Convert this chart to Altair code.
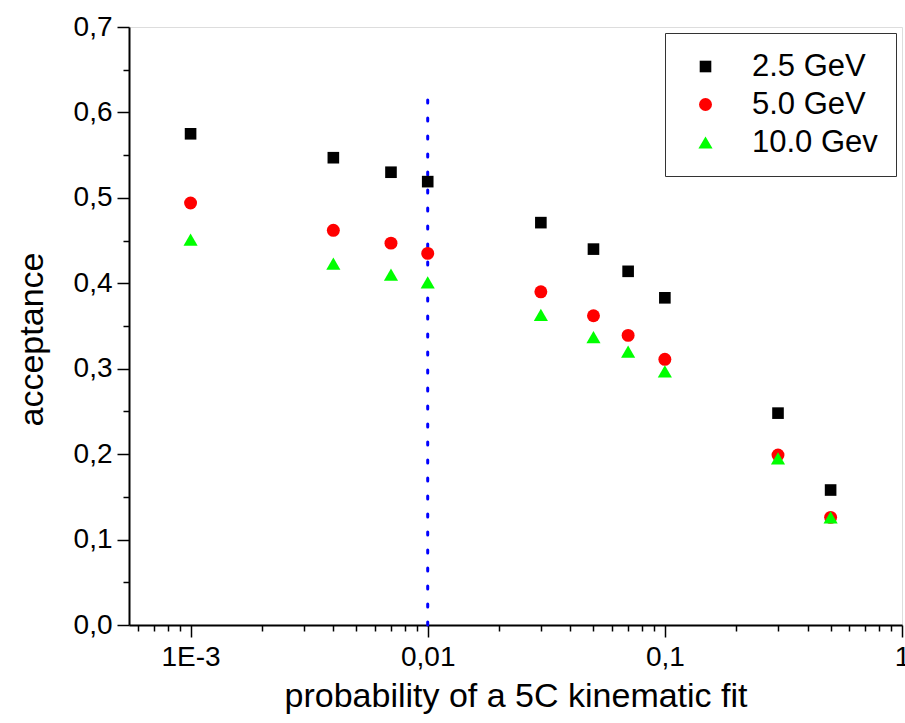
import altair as alt
import pandas as pd

probs = [0.001, 0.004, 0.007, 0.01, 0.03, 0.05, 0.07, 0.1, 0.3, 0.5]
acc_2_5 = [0.575, 0.547, 0.530, 0.519, 0.471, 0.440, 0.414, 0.383, 0.248, 0.158]
acc_5_0 = [0.494, 0.462, 0.447, 0.435, 0.390, 0.362, 0.339, 0.311, 0.199, 0.126]
acc_10_0 = [0.451, 0.423, 0.410, 0.401, 0.363, 0.337, 0.320, 0.297, 0.195, 0.126]
series = ["2.5 GeV", "5.0 GeV", "10.0 Gev"]
colors = ["#000000", "#ff0000", "#00ff00"]
shapes = ["square", "circle", "triangle-up"]
sizes = [135, 200, 260]

x_major = [0.001, 0.01, 0.1, 1]
x_minor = [0.0006, 0.0007, 0.0008, 0.0009,
           0.002, 0.003, 0.004, 0.005, 0.006, 0.007, 0.008, 0.009,
           0.02, 0.03, 0.04, 0.05, 0.06, 0.07, 0.08, 0.09,
           0.2, 0.3, 0.4, 0.5, 0.6, 0.7, 0.8, 0.9]
y_major = [0.0, 0.1, 0.2, 0.3, 0.4, 0.5, 0.6, 0.7]
y_minor = [0.05, 0.15, 0.25, 0.35, 0.45, 0.55, 0.65]

cut_x = [0.01]
cut_top = [0.615]

rows = []
for name, vals in zip(series, [acc_2_5, acc_5_0, acc_10_0]):
    for p, a in zip(probs, vals):
        rows.append({"p": p, "acc": a, "series": name})
df = pd.DataFrame(rows)
cut_df = pd.DataFrame({"x": cut_x, "y0": [0.0], "y1": cut_top})

FONT = "Liberation Sans"
W, H = 773, 598

xscale = alt.Scale(type="log", domain=[0.00055, 1], nice=False)
yscale = alt.Scale(domain=[0, 0.7], nice=False, zero=False)

x_major_axis = alt.Axis(
    values=x_major, orient="bottom", grid=False,
    labelExpr="datum.value < 0.005 ? '1E-3' : replace(format(datum.value, '~g'), '.', ',')",
    tickSize=12, tickWidth=1.5, tickColor="black",
    domain=True, domainColor="black", domainWidth=2,
    labelFont=FONT, labelFontSize=28, labelColor="black", labelPadding=6,
    labelFlush=False, labelOverlap=False,
    title="probability of a 5C kinematic fit", titleFont=FONT, titleFontSize=34,
    titleFontWeight="normal", titleColor="black", titlePadding=8,
)
y_major_axis = alt.Axis(
    values=y_major, orient="left", grid=False,
    labelExpr="replace(format(datum.value, '.1f'), '.', ',')",
    tickSize=12, tickWidth=1.5, tickColor="black",
    domain=True, domainColor="black", domainWidth=2,
    labelFont=FONT, labelFontSize=28, labelColor="black", labelPadding=5,
    labelFlush=False, labelOverlap=False,
    title="acceptance", titleFont=FONT, titleFontSize=34,
    titleFontWeight="normal", titleColor="black", titlePadding=24, titleY=312,
)
x_minor_axis = alt.Axis(values=x_minor, orient="bottom", grid=False, labels=False,
                        tickSize=6, tickWidth=1.5, tickColor="black",
                        domain=False, title=None)
y_minor_axis = alt.Axis(values=y_minor, orient="left", grid=False, labels=False,
                        tickSize=6, tickWidth=1.5, tickColor="black",
                        domain=False, title=None)

cut = alt.Chart(cut_df).mark_rule(
    color="#0000ff", strokeWidth=3, strokeDash=[3, 15], strokeCap="round"
).encode(
    x=alt.X("x:Q", scale=xscale, axis=x_minor_axis),
    y=alt.Y("y0:Q", scale=yscale, axis=y_minor_axis),
    y2="y1:Q",
)

legend = alt.Legend(
    title=None, orient="none", legendX=536, legendY=6,
    strokeColor="#333333", fillColor="white", padding=18,
    labelFont=FONT, labelFontSize=31, labelColor="black",
    symbolOffset=7, labelOffset=31, rowPadding=6, symbolOpacity=1,
    symbolStrokeWidth=0,
)

points = alt.Chart(df).mark_point(filled=True, opacity=1, strokeWidth=0).encode(
    x=alt.X("p:Q", scale=xscale, axis=x_major_axis),
    y=alt.Y("acc:Q", scale=yscale, axis=y_major_axis),
    color=alt.Color("series:N", scale=alt.Scale(domain=series, range=colors), legend=legend),
    shape=alt.Shape("series:N", scale=alt.Scale(domain=series, range=shapes), legend=legend),
    size=alt.Size("series:N", scale=alt.Scale(domain=series, range=sizes), legend=legend),
)

chart = alt.layer(cut, points).resolve_axis(x="independent", y="independent").properties(
    width=W, height=H,
    autosize=alt.AutoSizeParams(type="none"),
    padding={"left": 129, "top": 27, "right": 3, "bottom": 98},
).configure_view(stroke="black", strokeWidth=2).configure(background="white")

chart.save("out.html", embed_options={"renderer": "svg", "actions": False})
